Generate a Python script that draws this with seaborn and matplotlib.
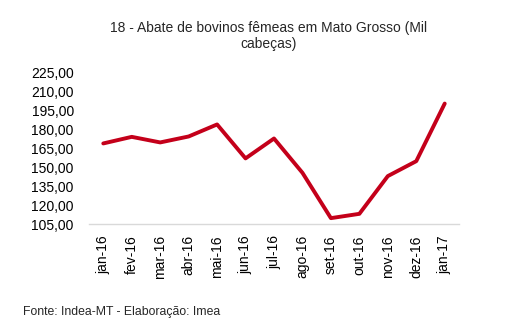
import matplotlib
matplotlib.use("Agg")
import matplotlib.pyplot as plt
import seaborn as sns
import pandas as pd
from matplotlib.ticker import FuncFormatter

# Abate de fêmeas bovinas em Mato Grosso (mil cabeças)
meses = ["jan-16", "fev-16", "mar-16", "abr-16", "mai-16", "jun-16", "jul-16",
         "ago-16", "set-16", "out-16", "nov-16", "dez-16", "jan-17"]
abate = [168.7, 173.9, 169.5, 174.2, 183.7, 156.9, 172.6,
         145.5, 109.7, 113.1, 142.9, 154.7, 200.2]
yticks = [105, 120, 135, 150, 165, 180, 195, 210, 225]

df = pd.DataFrame({"mes": meses, "abate": abate, "pos": range(len(meses))})

sns.set_theme(style="white")
plt.rcParams["font.family"] = ["Liberation Sans", "DejaVu Sans"]

fig = plt.figure(figsize=(5.06, 3.31), dpi=100)
ax = fig.add_axes([0.176, 0.323, 0.731, 0.459])

sns.lineplot(data=df, x="pos", y="abate", ax=ax, color="#C4001A", linewidth=2.8)

ax.set_xlim(-0.5, len(meses) - 0.5)
ax.set_ylim(105, 225)
ax.set_yticks(yticks)
ax.yaxis.set_major_formatter(FuncFormatter(lambda v, p: f"{v:.2f}".replace(".", ",")))
ax.set_xticks(range(len(meses)))
ax.set_xticklabels(meses, rotation=90)
ax.tick_params(axis="both", labelsize=10, colors="black", length=0)
ax.tick_params(axis="y", pad=11)
ax.tick_params(axis="x", pad=8)
ax.set_xlabel("")
ax.set_ylabel("")

for side in ["top", "right", "left"]:
    ax.spines[side].set_visible(False)
ax.spines["bottom"].set_color("#D9D9D9")
ax.spines["bottom"].set_linewidth(1.0)

fig.text(0.53, 0.892, "18 - Abate de bovinos fêmeas em Mato Grosso (Mil\ncabeças)",
         ha="center", va="center", fontsize=10, linespacing=1.2)
fig.text(0.045, 0.056, "Fonte: Indea-MT - Elaboração: Imea", ha="left", va="center",
         fontsize=8.8)

fig.savefig("out.png", dpi=100)
